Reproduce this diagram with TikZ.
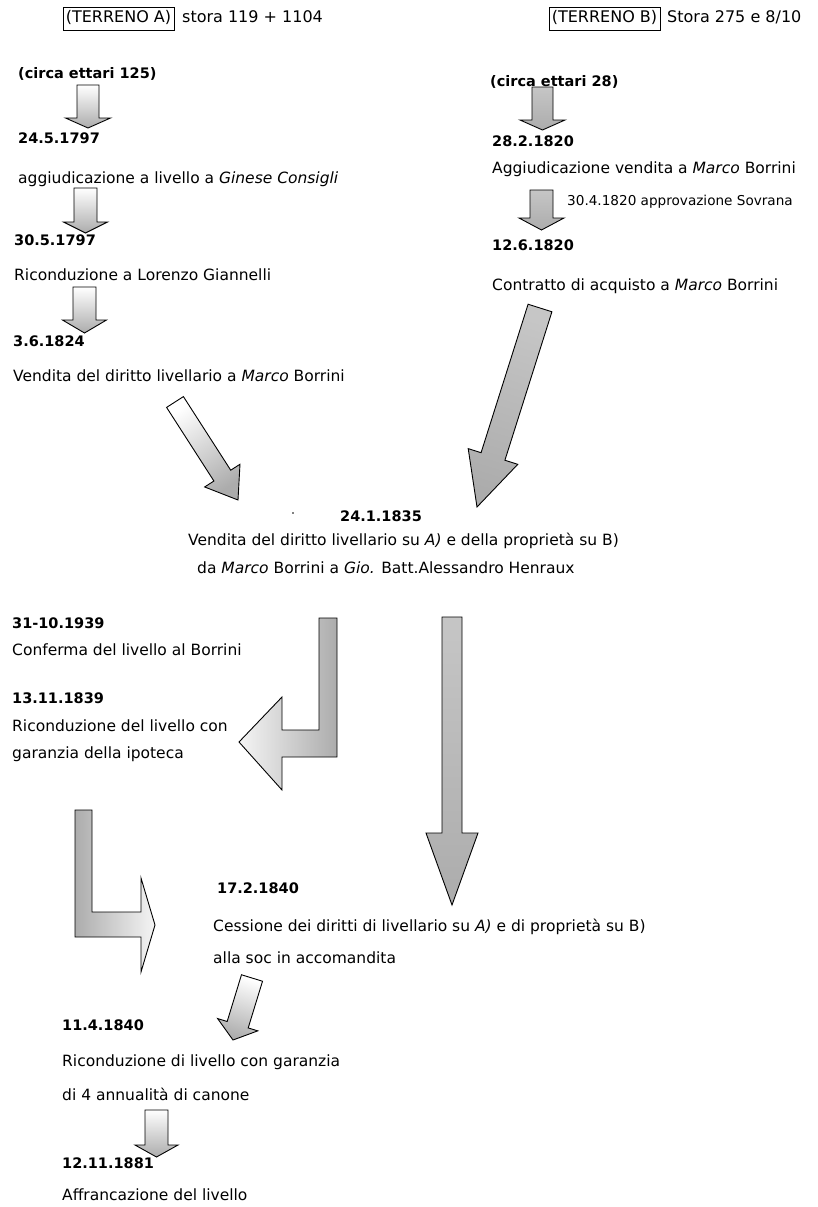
\documentclass[tikz,border=0pt]{standalone}
\usepackage{fontspec}
\setmainfont{DejaVu Sans}
\usetikzlibrary{calc}
\tikzset{
  txt/.style={anchor=west, inner sep=0pt, font=\fontsize{15.5}{18}\selectfont, text height=11pt, text depth=3.5pt},
  dte/.style={txt, font=\fontsize{14.5}{17}\selectfont\bfseries},
  hdr/.style={txt, font=\fontsize{16}{19}\selectfont},
  boxlbl/.style={draw, line width=0.6pt, inner xsep=3pt, inner ysep=4pt, text height=11pt, text depth=3.5pt, font=\fontsize{16}{19}\selectfont},
  lightarr/.style={draw, line width=0.9pt, top color=white, bottom color=gray!65},
  darkarr/.style={draw, line width=0.9pt, top color=gray!45, bottom color=gray!65},
}
\newcommand\blockarr[6]{%
  \coordinate (tmpb) at ($(#2)!#5!(#1)$);
  \path[#6] ($(#1)!#3!90:(#2)$) -- ($(tmpb)!#3!90:(#2)$) -- ($(tmpb)!#4!90:(#2)$) -- (#2)
    -- ($(tmpb)!#4!-90:(#2)$) -- ($(tmpb)!#3!-90:(#2)$) -- ($(#1)!#3!-90:(#2)$) -- cycle;
}
\begin{document}
\begin{tikzpicture}[x=1pt, y=-1pt]
\useasboundingbox (0,0) rectangle (818,1207);

% headers
\node[boxlbl] (ta) at (118.5,19) {(TERRENO A)};
\node[hdr] (sa) at (182,19) {stora 119 + 1104};
\node[boxlbl] (tb) at (604.5,19) {(TERRENO B)};
\node[hdr] (sb) at (667,19) {Stora 275 e 8/10};

% left column
\node[dte] (ca) at (18,75) {(circa ettari 125)};
\node[dte] (d1) at (18,140) {24.5.1797};
\node[txt] (t1) at (18,180) {aggiudicazione a livello a \textit{Ginese Consigli}};
\node[dte] (d2) at (14,242) {30.5.1797};
\node[txt] (t2) at (14,277) {Riconduzione a Lorenzo Giannelli};
\node[dte] (d3) at (13,343) {3.6.1824};
\node[txt] (t3) at (13,378) {Vendita del diritto livellario a \textit{Marco} Borrini};

% right column
\node[dte] (cb) at (490,83) {(circa ettari 28)};
\node[dte] (d4) at (492,143) {28.2.1820};
\node[txt] (t4) at (492,170) {Aggiudicazione vendita a \textit{Marco} Borrini};
\node[txt, font=\fontsize{13.6}{16}\selectfont] (n4) at (567,202) {30.4.1820 approvazione Sovrana};
\node[dte] (d5) at (492,247) {12.6.1820};
\node[txt] (t5) at (492,287) {Contratto di acquisto a \textit{Marco} Borrini};

% centre
\node[dte, anchor=center] (d6) at (381,518) {24.1.1835};
\node[txt] (t6) at (188,542) {Vendita del diritto livellario su \textit{A)} e della proprietà su B)};
\node[txt] (t7) at (197,570) {da \textit{Marco} Borrini a \textit{Gio.} Batt.Alessandro Henraux};
\fill (293,513) circle (0.9pt);

% lower left
\node[dte] (d7) at (12,625) {31-10.1939};
\node[txt] (t8) at (12,652) {Conferma del livello al Borrini};
\node[dte] (d8) at (12,700) {13.11.1839};
\node[txt] (t9) at (12,728) {Riconduzione del livello con};
\node[txt] (t10) at (12,755) {garanzia della ipoteca};

\node[dte] (d9) at (217,890) {17.2.1840};
\node[txt] (t11) at (213,928) {Cessione dei diritti di livellario su \textit{A)} e di proprietà su B)};
\node[txt] (t12) at (213,960) {alla soc in accomandita};

\node[dte] (d10) at (62,1027) {11.4.1840};
\node[txt] (t13) at (62,1063) {Riconduzione di livello con garanzia};
\node[txt] (t14) at (62,1097) {di 4 annualità di canone};
\node[dte] (d11) at (62,1165) {12.11.1881};
\node[txt] (t15) at (62,1197) {Affrancazione del livello};

% arrow end points
\coordinate (a1s) at (88,85);    \coordinate (a1t) at (88,128);
\coordinate (a2s) at (85.5,188); \coordinate (a2t) at (85.5,233);
\coordinate (a3s) at (84.5,287); \coordinate (a3t) at (84.5,333);
\coordinate (b1s) at (542.5,87); \coordinate (b1t) at (542.5,130);
\coordinate (b2s) at (541.5,190);\coordinate (b2t) at (541.5,230);
\coordinate (dls) at (175,402);  \coordinate (dlt) at (238,500);
\coordinate (drs) at (540,308);  \coordinate (drt) at (477,507);
\coordinate (vs) at (452,617);   \coordinate (vt) at (452,905);
\coordinate (sds) at (252,978);  \coordinate (sdt) at (233,1040);
\coordinate (a4s) at (156.5,1110); \coordinate (a4t) at (156.5,1157);

\blockarr{a1s}{a1t}{11pt}{22.5pt}{10pt}{lightarr}
\blockarr{a2s}{a2t}{11.5pt}{22pt}{11pt}{lightarr}
\blockarr{a3s}{a3t}{11.5pt}{22pt}{13pt}{lightarr}
\blockarr{b1s}{b1t}{10.5pt}{22.5pt}{10pt}{darkarr}
\blockarr{b2s}{b2t}{11.5pt}{22.5pt}{12pt}{darkarr}
\blockarr{dls}{dlt}{10pt}{21pt}{29pt}{draw, line width=0.9pt, top color=white, bottom color=gray!65, shading angle=33}
\blockarr{drs}{drt}{12.5pt}{26pt}{53pt}{draw, line width=0.9pt, top color=gray!45, bottom color=gray!65, shading angle=-17}
\blockarr{vs}{vt}{10pt}{26pt}{72pt}{darkarr}
\blockarr{sds}{sdt}{11pt}{21pt}{16pt}{draw, line width=0.9pt, top color=white, bottom color=gray!65, shading angle=-17}
\blockarr{a4s}{a4t}{11.5pt}{21.5pt}{12pt}{lightarr}

% bent arrows
\path[draw, line width=0.9pt, left color=gray!8, right color=gray!65]
  (319,618) -- (337,618) -- (337,757) -- (282,757) -- (282,790) -- (239,742)
  -- (282,697) -- (282,730) -- (319,730) -- cycle;
\path[draw, line width=0.9pt, left color=gray!65, right color=gray!8]
  (75,810) -- (92,810) -- (92,912) -- (141,912) -- (141,878) -- (155,925)
  -- (141,972) -- (141,937) -- (75,937) -- cycle;
\end{tikzpicture}
\end{document}
